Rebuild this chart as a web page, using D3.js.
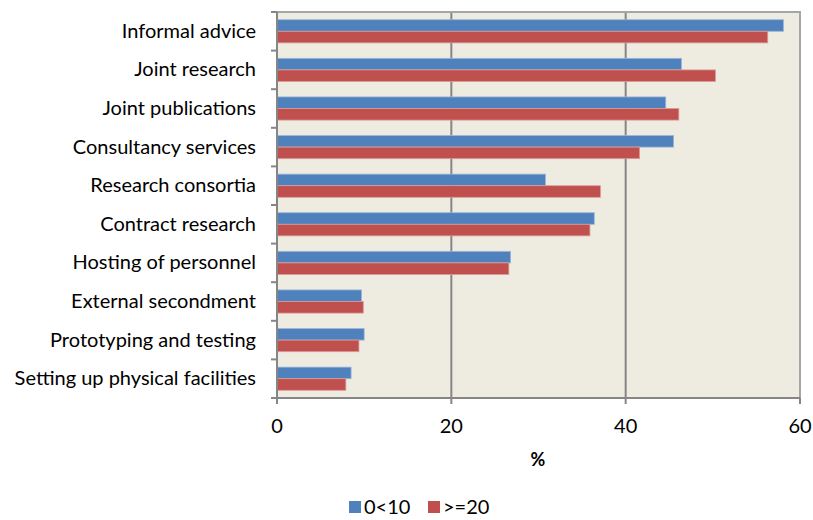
<!DOCTYPE html>
<html><head><meta charset="utf-8">
<script src="https://cdn.jsdelivr.net/npm/d3@7"></script>
<style>body{margin:0;background:#fff;} svg{display:block;font-family:Lato, "Open Sans", sans-serif;}</style>
</head><body>
<svg id="c" width="813" height="520"></svg>
<script>
const categories = ["Informal advice","Joint research","Joint publications","Consultancy services","Research consortia","Contract research","Hosting of personnel","External secondment","Prototyping and testing","Setting up physical facilities"];
const seriesNames = ["0<10", ">=20"];
const series0 = [58.1, 46.4, 44.6, 45.5, 30.8, 36.4, 26.8, 9.7, 10.0, 8.5];
const series1 = [56.3, 50.3, 46.1, 41.6, 37.1, 35.9, 26.6, 9.9, 9.4, 7.9];
const xTicks = [0, 20, 40, 60];
const colors = ["#4F81BD", "#C0504D"];
const strokes = ["#9DB7DA", "#DB9B99"];

const svg = d3.select("#c");
const L = 277, R = 800, T = 12, B = 398;
const x = d3.scaleLinear().domain([0, 60]).range([L, R]);
const y = d3.scaleBand().domain(categories).range([T, B]).paddingInner(0.4).paddingOuter(0.2);
const y1 = d3.scaleBand().domain([0,1]).range([0, y.bandwidth()]);

svg.append("rect").attr("x", L).attr("y", T).attr("width", R - L).attr("height", B - T).attr("fill", "#EEEBE0");
svg.append("g").selectAll("line").data([20, 40]).join("line")
  .attr("x1", d => x(d)).attr("x2", d => x(d)).attr("y1", T).attr("y2", B)
  .attr("stroke", "#868686").attr("stroke-width", 2);
svg.append("path").attr("d", `M${L},${T}H${R}V${B}`).attr("fill", "none").attr("stroke", "#A6A6A6").attr("stroke-width", 2);

const data = categories.map((c, i) => ({c, v: [series0[i], series1[i]]}));
const g = svg.append("g").selectAll("g").data(data).join("g").attr("transform", d => `translate(0,${y(d.c)})`);
g.selectAll("rect").data(d => d.v.map((v, k) => ({v, k}))).join("rect")
  .attr("x", x(0)).attr("y", d => y1(d.k)).attr("width", d => x(d.v) - x(0)).attr("height", y1.bandwidth())
  .attr("fill", d => colors[d.k]).attr("stroke", d => strokes[d.k]).attr("stroke-width", 0.8);

const ax = svg.append("g");
ax.append("line").attr("x1", L).attr("x2", L).attr("y1", T).attr("y2", B + 6).attr("stroke", "#868686").attr("stroke-width", 2);
ax.selectAll(".yt").data(categories.map((c,i)=>T + i * (B - T) / categories.length).concat([B])).join("line")
  .attr("x1", L - 6).attr("x2", L).attr("y1", d => d).attr("y2", d => d).attr("stroke", "#868686").attr("stroke-width", 2);
ax.selectAll(".yl").data(categories).join("text")
  .attr("x", 256).attr("y", c => y(c) + y.bandwidth() / 2).attr("dy", "0.32em")
  .attr("text-anchor", "end").attr("font-size", 20).attr("fill", "#000").text(c => c);

ax.append("line").attr("x1", L - 6).attr("x2", R).attr("y1", B).attr("y2", B).attr("stroke", "#868686").attr("stroke-width", 2);
ax.selectAll(".xt").data(xTicks).join("line")
  .attr("x1", d => x(d)).attr("x2", d => x(d)).attr("y1", B).attr("y2", B + 6).attr("stroke", "#868686").attr("stroke-width", 2);
ax.selectAll(".xl").data(xTicks).join("text")
  .attr("x", d => x(d)).attr("y", 433).attr("text-anchor", "middle").attr("font-size", 20).text(d => d);
svg.append("text").attr("x", 538).attr("y", 466).attr("text-anchor", "middle").attr("font-size", 18).attr("font-weight", "bold").text("%");

const leg = svg.append("g");
const lx = [349, 428];
seriesNames.forEach((n, k) => {
  leg.append("rect").attr("x", lx[k]).attr("y", 501).attr("width", 12).attr("height", 12).attr("fill", colors[k]);
  leg.append("text").attr("x", lx[k] + 15).attr("y", 514).attr("font-size", 20).text(n);
});
</script>
</body></html>
